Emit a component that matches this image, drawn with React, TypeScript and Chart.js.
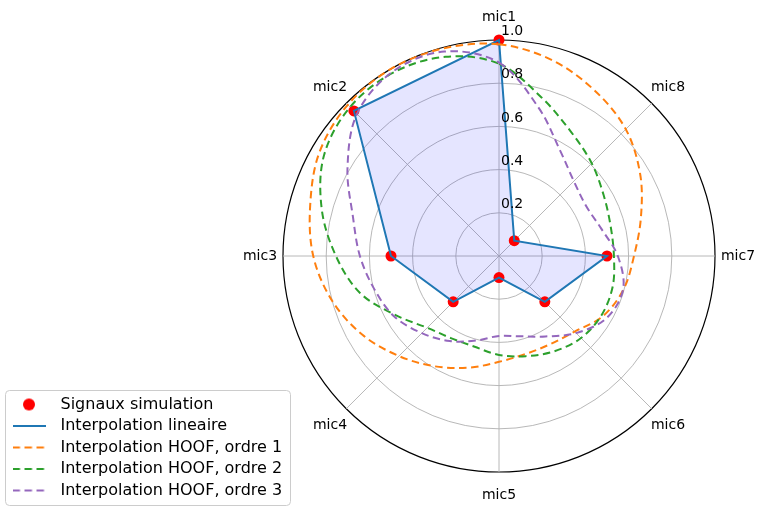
import React, { useEffect, useRef } from 'react';
import { Chart, registerables } from 'chart.js';

Chart.register(...registerables);

// Microphones, counter-clockwise from the top (mic1 at 90°)
const micNames = ['mic1', 'mic2', 'mic3', 'mic4', 'mic5', 'mic6', 'mic7', 'mic8'];
const micSignals = [1.0, 0.95, 0.5, 0.3, 0.1, 0.3, 0.5, 0.1];

// HOOF interpolation curves,
// sampled clockwise from mic1 every 15 degrees (24 samples)
const hoofOrder1 = [0.98, 0.94, 0.885, 0.83, 0.755, 0.68, 0.625, 0.597, 0.556, 0.495, 0.472, 0.47,
  0.49, 0.535, 0.59, 0.655, 0.73, 0.8, 0.86, 0.905, 0.96, 0.99, 1.0, 0.995];
const hoofOrder2 = [0.89, 0.76, 0.665, 0.607, 0.56, 0.535, 0.532, 0.545, 0.548, 0.537, 0.51, 0.48,
  0.458, 0.435, 0.44, 0.47, 0.55, 0.665, 0.755, 0.85, 0.935, 0.975, 0.98, 0.955];
const hoofOrder3 = [0.895, 0.71, 0.565, 0.49, 0.465, 0.49, 0.55, 0.595, 0.575, 0.505, 0.43, 0.385,
  0.37, 0.405, 0.455, 0.505, 0.56, 0.597, 0.644, 0.7, 0.81, 0.93, 0.985, 0.98];

const radialTickValues = [0.2, 0.4, 0.6, 0.8, 1.0];
const radialTickLabels = ['0.2', '0.4', '0.6', '0.8', '1.0'];

const seriesNames = [
  'Signaux simulation',
  'Interpolation lineaire',
  'Interpolation HOOF, ordre 1',
  'Interpolation HOOF, ordre 2',
  'Interpolation HOOF, ordre 3',
];

const SAMPLES = hoofOrder1.length;
const STEP = SAMPLES / micNames.length;
const micIndex = (i: number) => ((micNames.length - i) % micNames.length) * STEP;

const angleLabels: string[] = new Array(SAMPLES).fill('');
micNames.forEach((n, i) => { angleLabels[micIndex(i)] = n; });
const micData: (number | null)[] = new Array(SAMPLES).fill(null);
micSignals.forEach((v, i) => { micData[micIndex(i)] = v; });

const FONT = "'DejaVu Sans', 'Liberation Sans', sans-serif";
const DASH = [7.5, 4.5];

function lineMarker(color: string, dash: number[]) {
  const c = document.createElement('canvas');
  c.width = 33; c.height = 6;
  const g = c.getContext('2d')!;
  g.strokeStyle = color; g.lineWidth = 2; g.setLineDash(dash);
  g.beginPath(); g.moveTo(0, 3); g.lineTo(33, 3); g.stroke();
  return c;
}
function dotMarker(color: string, r: number) {
  const c = document.createElement('canvas');
  c.width = 2 * r + 2; c.height = 2 * r + 2;
  const g = c.getContext('2d')!;
  g.fillStyle = color;
  g.beginPath(); g.arc(r + 1, r + 1, r, 0, Math.PI * 2); g.fill();
  return c;
}

const polarText = {
  id: 'polarText',
  afterDatasetsDraw(chart: any) {
    const s = chart.scales.r;
    const ctx = chart.ctx;
    ctx.save();
    ctx.font = `14px ${FONT}`;
    ctx.fillStyle = '#000';
    ctx.textBaseline = 'middle';
    ctx.textAlign = 'center';
    (chart.data.labels as string[]).forEach((lab, i) => {
      if (!lab) return;
      const p = s.getPointPosition(i, s.drawingArea + 23);
      ctx.fillText(lab, p.x, p.y);
    });
    ctx.textAlign = 'left';
    radialTickValues.forEach((v, i) => {
      const d = s.getDistanceFromCenterForValue(v);
      ctx.fillText(radialTickLabels[i], s.xCenter + 2, s.yCenter - d - 8.5);
    });
    ctx.restore();
  },
};

const legendFrame = {
  id: 'legendFrame',
  afterDraw(chart: any) {
    const hb = chart.legend && chart.legend.legendHitBoxes;
    if (!hb || !hb.length) return;
    const l = Math.min(...hb.map((h: any) => h.left)) - 0.5;
    const t = Math.min(...hb.map((h: any) => h.top)) - 6.5;
    const r = Math.max(...hb.map((h: any) => h.left + h.width)) + 7.5;
    const b = Math.max(...hb.map((h: any) => h.top + h.height)) + 6.5;
    const ctx = chart.ctx;
    ctx.save();
    ctx.strokeStyle = '#cccccc';
    ctx.lineWidth = 1;
    ctx.beginPath();
    const x0 = Math.round(l) + 0.5, y0 = Math.round(t) + 0.5;
    const w = Math.round(r - l), h = Math.round(b - t);
    if (ctx.roundRect) ctx.roundRect(x0, y0, w, h, 4); else ctx.rect(x0, y0, w, h);
    ctx.stroke();
    ctx.restore();
  },
};

export default function App() {
  const ref = useRef<HTMLCanvasElement>(null);
  useEffect(() => {
    const markers = [
      dotMarker('#ff0000', 6),
      lineMarker('#1f77b4', []),
      lineMarker('#ff7f0e', DASH),
      lineMarker('#2ca02c', DASH),
      lineMarker('#9467bd', DASH),
    ];
    const hoofDs = (label: string, data: number[], color: string, order: number) => ({
      label, data, borderColor: color, borderWidth: 2, borderDash: DASH,
      pointRadius: 0, fill: false, tension: 0.34, order,
    });
    const chart = new Chart(ref.current!, {
      type: 'radar',
      data: {
        labels: angleLabels,
        datasets: [
          {
            label: seriesNames[0], data: micData, showLine: false, pointRadius: 5.5,
            pointBackgroundColor: '#ff0000', pointBorderWidth: 0, borderWidth: 0,
            fill: false, order: 4,
          },
          {
            label: seriesNames[1], data: micData, spanGaps: true, borderColor: '#1f77b4',
            borderWidth: 2, backgroundColor: 'rgba(0,0,255,0.1)', fill: true,
            pointRadius: 0, tension: 0, order: 3,
          },
          hoofDs(seriesNames[2], hoofOrder1, '#ff7f0e', 2),
          hoofDs(seriesNames[3], hoofOrder2, '#2ca02c', 1),
          hoofDs(seriesNames[4], hoofOrder3, '#9467bd', 0),
        ] as any,
      },
      options: {
        responsive: false,
        animation: false,
        events: [],
        layout: { padding: { left: 0, right: 45, top: 8, bottom: 12 } },
        scales: {
          r: {
            min: 0, max: 1,
            ticks: { display: false, stepSize: 0.2 },
            pointLabels: { display: false },
            grid: {
              circular: true,
              color: (c: any) => (c.tick && c.tick.value >= 0.999 ? '#000000' : '#b0b0b0'),
              lineWidth: (c: any) => (c.tick && c.tick.value >= 0.999 ? 1.2 : 0.9),
            },
            angleLines: {
              display: true,
              color: '#b0b0b0',
              lineWidth: (c: any) => (c.index % STEP === 0 ? 0.9 : 0),
            },
          },
        },
        plugins: {
          filler: { drawTime: 'beforeDatasetsDraw' },
          tooltip: { enabled: false },
          legend: {
            position: 'left',
            align: 'end',
            maxWidth: 283,
            labels: {
              usePointStyle: true,
              pointStyleWidth: 47,
              padding: 5.5,
              color: '#000',
              font: { family: FONT, size: 16 },
              generateLabels: (ch: any) => ch.data.datasets.map((ds: any, i: number) => ({
                text: ds.label,
                pointStyle: markers[i],
                datasetIndex: i,
                hidden: false,
                fillStyle: 'rgba(0,0,0,0)',
                strokeStyle: 'rgba(0,0,0,0)',
                lineWidth: 0,
                fontColor: '#000',
              })),
            },
          },
        },
      } as any,
      plugins: [polarText, legendFrame],
    });
    return () => chart.destroy();
  }, []);
  return (
    <div style={{ position: 'absolute', left: 0, top: 0, width: 760, height: 516, background: '#fff' }}>
      <canvas ref={ref} width={760} height={516} style={{ display: 'block' }} />
    </div>
  );
}
